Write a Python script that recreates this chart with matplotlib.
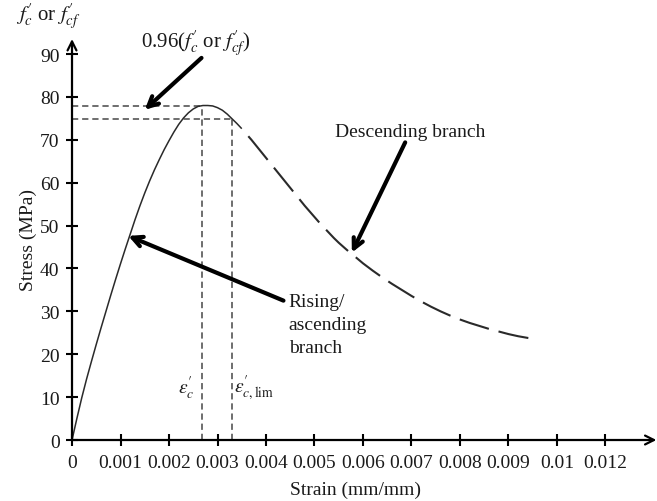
import matplotlib
matplotlib.use("Agg")
import matplotlib.pyplot as plt

plt.rcParams["font.family"] = ["Liberation Serif", "DejaVu Serif"]
plt.rcParams["mathtext.fontset"] = "stix"
plt.rcParams["lines.scale_dashes"] = False

# Stress-strain curve of concrete (strain in mm/mm, stress in MPa)
rising_strain = [0.0, 0.0001, 0.0002, 0.0003, 0.0004, 0.0005, 0.0006, 0.0007, 0.0008,
                 0.0009, 0.0010, 0.0011, 0.0012, 0.0013, 0.0014, 0.0015, 0.0016, 0.0017,
                 0.0018, 0.0019, 0.0020, 0.0021, 0.0022, 0.0023, 0.0024, 0.0025, 0.0026,
                 0.0027, 0.0028, 0.0029, 0.0030, 0.0031, 0.0032, 0.0033, 0.0034, 0.0035]
rising_stress = [0.0, 5.0, 9.8, 14.2, 18.3, 22.3, 26.2, 30.0, 33.8,
                 37.5, 41.1, 44.6, 48.0, 51.4, 54.6, 57.6, 60.4, 63.0,
                 65.4, 67.7, 69.8, 71.8, 73.6, 75.1, 76.3, 77.2, 77.8,
                 78.0, 78.0, 77.9, 77.5, 76.9, 76.0, 74.9, 73.8, 72.6]
desc_strain = [0.0035, 0.0036, 0.0037, 0.0038, 0.0039, 0.0040, 0.0041, 0.0042, 0.0043,
               0.0044, 0.0045, 0.0046, 0.0047, 0.0048, 0.0049, 0.0050, 0.0051, 0.0052,
               0.0053, 0.0054, 0.0055, 0.0056, 0.0057, 0.0058, 0.0060, 0.0062, 0.0064,
               0.0066, 0.0068, 0.0070, 0.0072, 0.0074, 0.0076, 0.0078, 0.0080, 0.0082,
               0.0084, 0.0086, 0.0088, 0.0090, 0.0092, 0.0094, 0.00953]
desc_stress = [72.6, 71.3, 70.0, 68.6, 67.2, 65.8, 64.4, 63.0, 61.6,
               60.2, 58.8, 57.4, 56.0, 54.6, 53.3, 52.0, 50.7, 49.5,
               48.3, 47.1, 46.0, 45.0, 44.0, 43.1, 41.2, 39.5, 37.9,
               36.4, 35.0, 33.6, 32.3, 31.1, 30.0, 29.0, 28.1, 27.3,
               26.6, 25.9, 25.3, 24.7, 24.2, 23.8, 23.6]

peak_stress = 78.0
peak_strain = 0.00269
limit_ratio = 0.96
limit_strain = 0.0033

x_ticks = [0.0, 0.001, 0.002, 0.003, 0.004, 0.005, 0.006, 0.007, 0.008, 0.009, 0.010, 0.011]
x_tick_labels = ["0", "0.001", "0.002", "0.003", "0.004", "0.005", "0.006",
                 "0.007", "0.008", "0.009", "0.01", "0.012"]
y_ticks = [0, 10, 20, 30, 40, 50, 60, 70, 80, 90]

fig = plt.figure(figsize=(6.57, 5.02), dpi=100)
ax = fig.add_axes([0.1096, 0.1215, 0.8895, 0.803])
ax.set_xlim(0, 0.01205)
ax.set_ylim(0, 94)

for s in ax.spines.values():
    s.set_visible(False)

# axes drawn as arrows
arrow_kw = dict(arrowstyle="->", lw=1.6, color="black", mutation_scale=16,
                shrinkA=0, shrinkB=0)
ax.annotate("", xy=(0.01205, 0), xytext=(0, 0), arrowprops=arrow_kw, annotation_clip=False)
ax.annotate("", xy=(0, 93.5), xytext=(0, 0), arrowprops=arrow_kw, annotation_clip=False)

ax.set_xticks(x_ticks)
ax.set_xticklabels(x_tick_labels)
ax.set_yticks(y_ticks)
ax.tick_params(direction="inout", length=8, width=1.5, labelsize=14, color="black",
               labelcolor="#1a1a1a")
ax.tick_params(axis="x", pad=6)
ax.tick_params(axis="y", pad=5)

# reference lines at the peak and at the limit stress
limit_stress = limit_ratio * peak_stress
ref_kw = dict(color="#555555", lw=1.2, linestyle=(0, (4.5, 2.8)))
ax.plot([0, peak_strain], [peak_stress, peak_stress], **ref_kw)
ax.plot([0, limit_strain], [limit_stress, limit_stress], **ref_kw)
ax.plot([peak_strain, peak_strain], [0, peak_stress], **ref_kw)
ax.plot([limit_strain, limit_strain], [0, limit_stress], **ref_kw)

# the curve: solid rising part, long-dashed descending part
ax.plot(rising_strain, rising_stress, color="#2a2a2a", lw=1.1, solid_capstyle="butt")
ax.plot(desc_strain, desc_stress, color="#2a2a2a", lw=1.5,
        linestyle=(22.0, (22.0, 7.2)))

# annotation arrows
ann_kw = dict(arrowstyle="->", lw=3.0, color="black", mutation_scale=18,
              shrinkA=0, shrinkB=0)
ax.annotate("", xy=(0.0015, 77.0), xytext=(0.00267, 89.1), arrowprops=ann_kw)
ax.annotate("", xy=(0.00116, 47.6), xytext=(0.00436, 32.5), arrowprops=ann_kw)
ax.annotate("", xy=(0.00577, 43.7), xytext=(0.00687, 69.4), arrowprops=ann_kw)

txt = dict(fontsize=14, color="#1a1a1a")
ax.text(0.00256, 92.6, r"0.96($f^{\prime}_{c}$ or $f^{\prime}_{cf}$)", ha="center", va="center",
        fontsize=15, color="#1a1a1a")
ax.text(0.00697, 71.9, "Descending branch", ha="center", va="center", **txt)
ax.text(0.00447, 27.0, "Rising/\nascending\nbranch", ha="left", va="center",
        linespacing=1.45, **txt)
ax.text(0.00253, 12.2, r"$\varepsilon^{\prime}_{c}$", ha="right", va="center", **txt)
ax.text(0.00333, 12.2, r"$\varepsilon^{\prime}_{c,\mathrm{lim}}$", ha="left", va="center", **txt)

fig.text(48 / 657, 1 - 17 / 502, r"$f^{\prime}_{c}$ or $f^{\prime}_{cf}$", ha="center",
         va="center", fontsize=15, color="#1a1a1a")
fig.text(28 / 657, 1 - 240 / 502, "Stress (MPa)", rotation=90, ha="center", va="center", **txt)
fig.text(355 / 657, 1 - 490 / 502, "Strain (mm/mm)", ha="center", va="center", **txt)

fig.savefig("out.png", dpi=100)
